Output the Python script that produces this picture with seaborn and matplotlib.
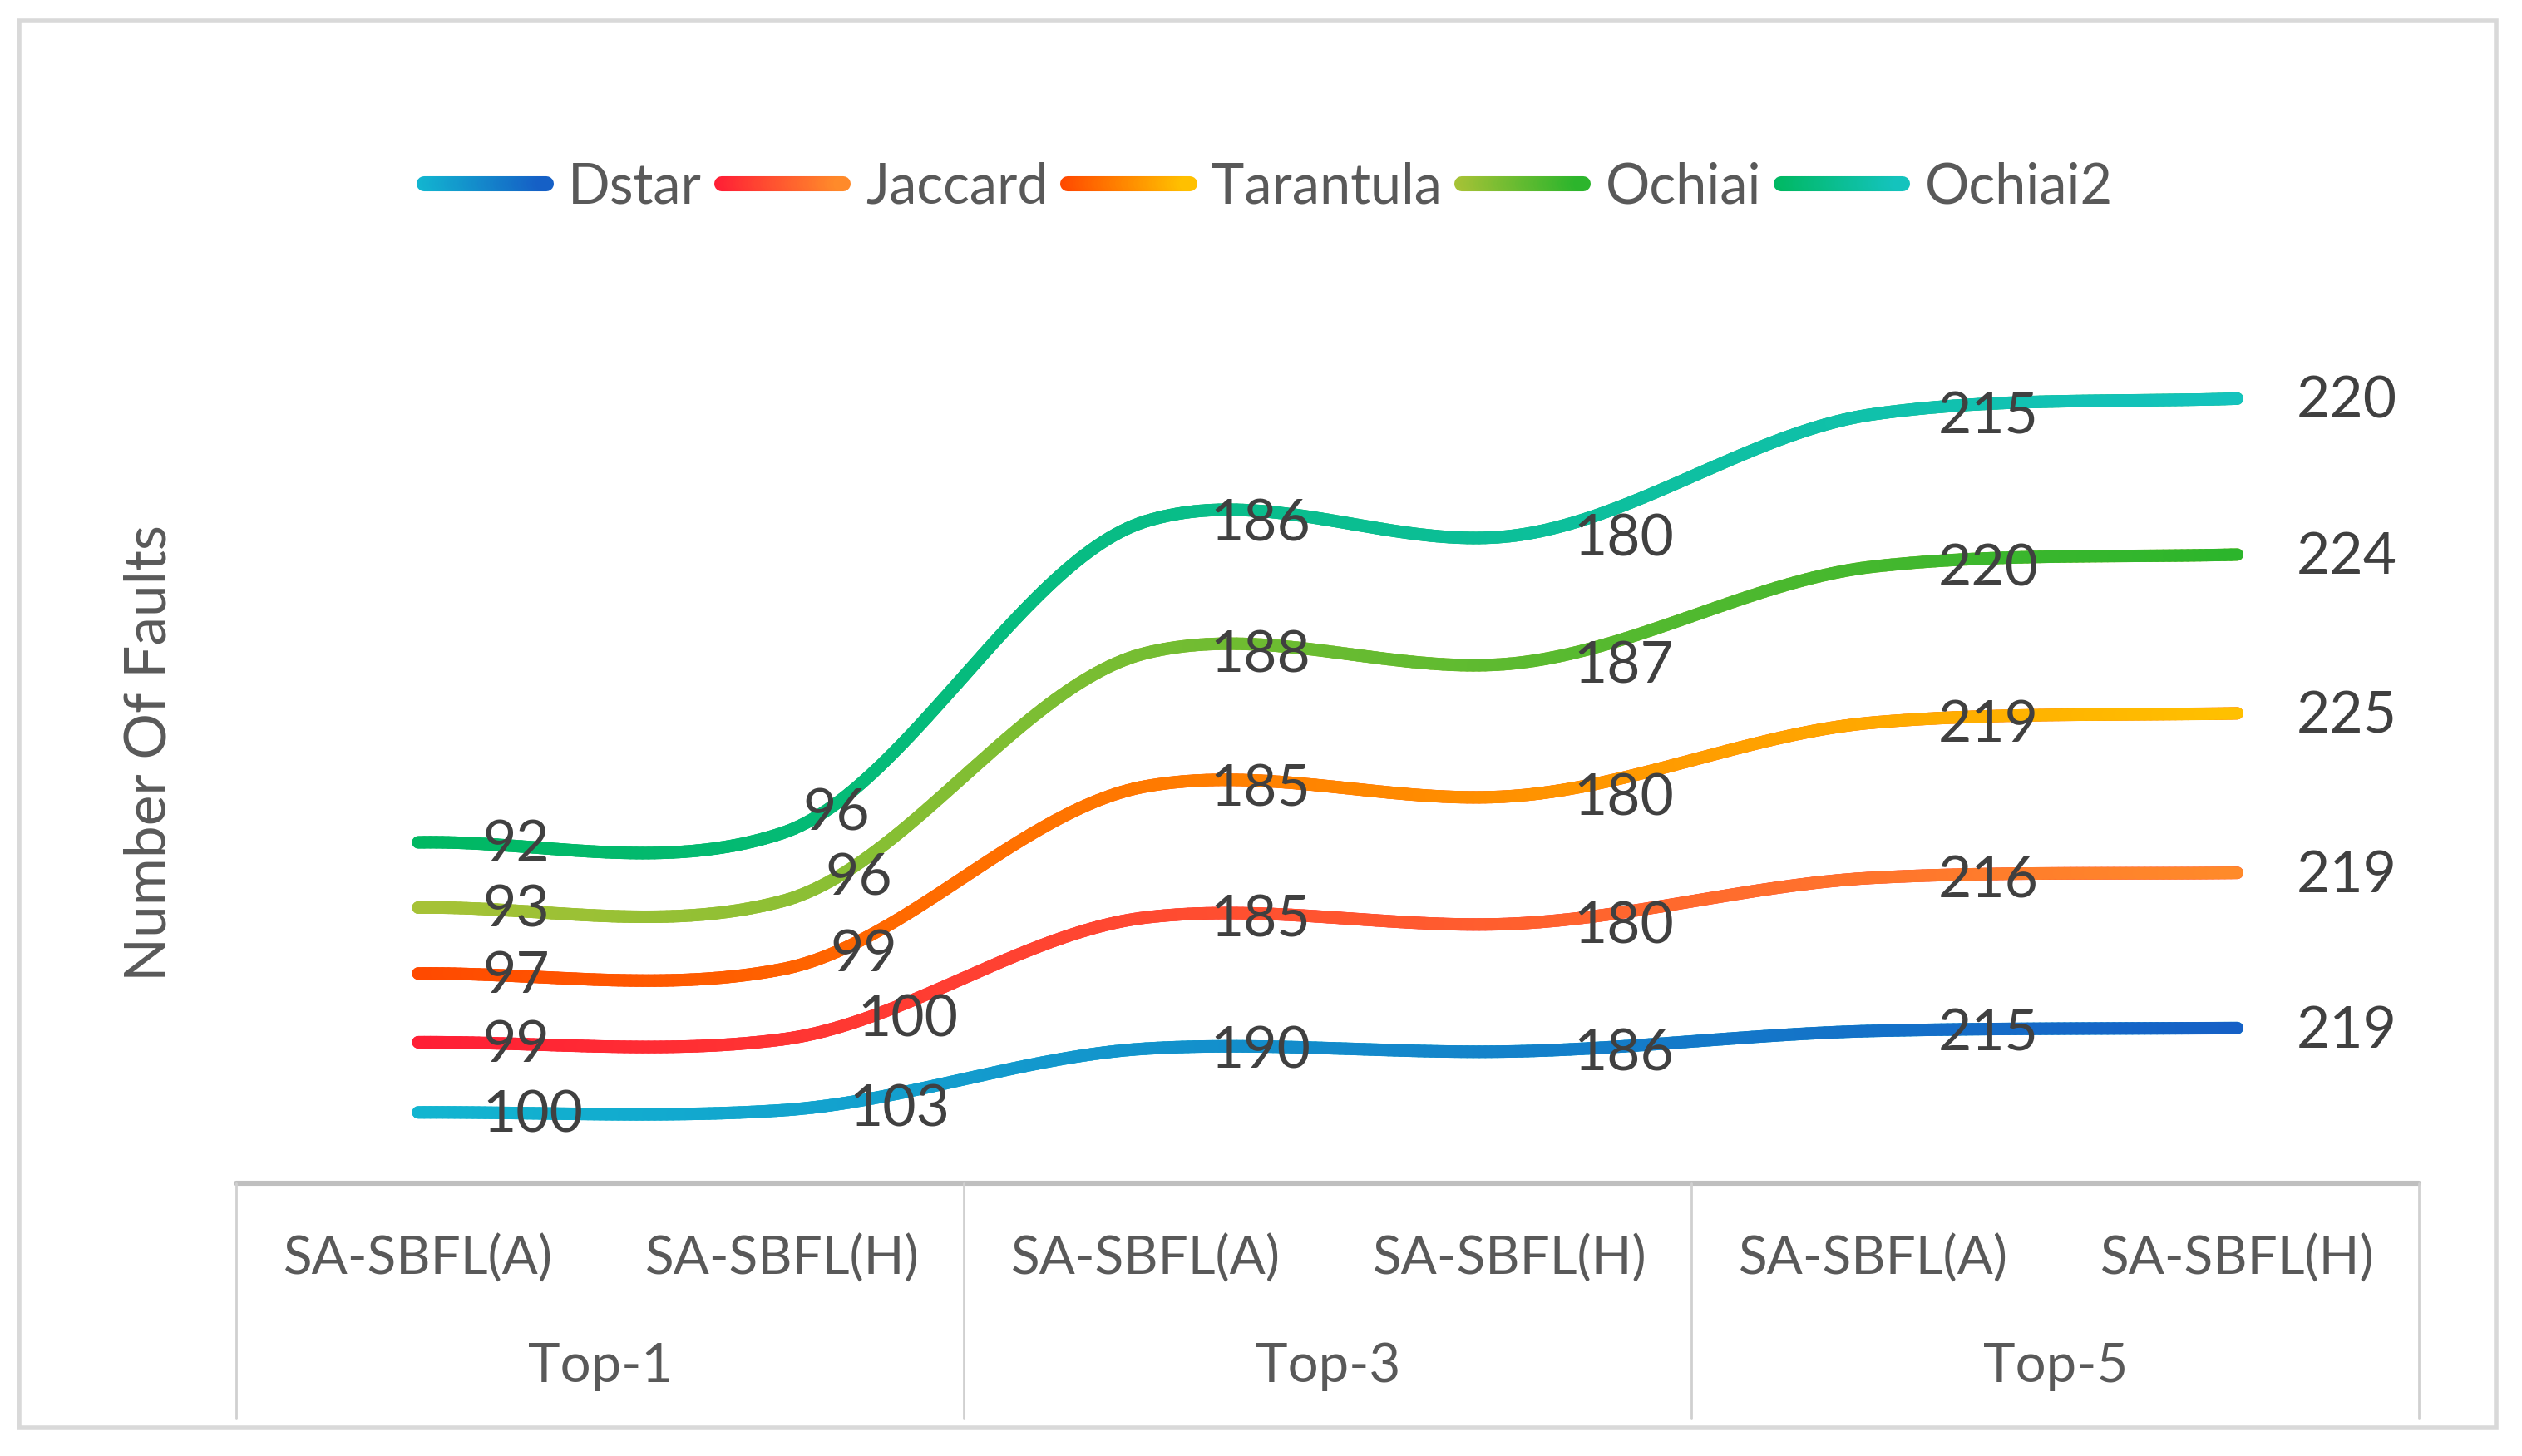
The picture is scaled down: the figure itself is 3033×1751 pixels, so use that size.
import numpy as np
import pandas as pd
import matplotlib
matplotlib.use("Agg")
import matplotlib.pyplot as plt
import seaborn as sns
from matplotlib.collections import LineCollection
from matplotlib.colors import LinearSegmentedColormap
from matplotlib.legend_handler import HandlerBase
from matplotlib.patches import Rectangle

# --- data (values per method, lines are stacked) ---
groups = ["Top-1", "Top-3", "Top-5"]
variants = ["SA-SBFL(A)", "SA-SBFL(H)"]
methods = ["Dstar", "Jaccard", "Tarantula", "Ochiai", "Ochiai2"]

dstar = [100, 103, 190, 186, 215, 219]
jaccard = [99, 100, 185, 180, 216, 219]
tarantula = [97, 99, 185, 180, 219, 225]
ochiai = [93, 96, 188, 187, 220, 224]
ochiai2 = [92, 96, 186, 180, 215, 220]

series = dict(zip(methods, [dstar, jaccard, tarantula, ochiai, ochiai2]))

# left -> right gradient of each line
gradients = {
    "Dstar": ("#12b5d0", "#1560c6"),
    "Jaccard": ("#ff1f35", "#ff8a2a"),
    "Tarantula": ("#ff4a00", "#ffc000"),
    "Ochiai": ("#a6c236", "#2cb52c"),
    "Ochiai2": ("#00b862", "#14c3bd"),
}
cmaps = {m: LinearSegmentedColormap.from_list(m, c) for m, c in gradients.items()}

S = 3033 / 1568  # reference pixel scale helper

rows = []
for j in range(6):
    total = 0
    for m in methods:
        total += series[m][j]
        rows.append({"method": m, "pos": j, "value": series[m][j], "stacked": total})
df = pd.DataFrame(rows)


def smooth(y, n=60, k=0.75):
    # Excel style smoothed line through the points (cubic Hermite)
    y = np.asarray(y, float)
    m = np.empty_like(y)
    m[1:-1] = (y[2:] - y[:-2]) / 2 * k
    m[0] = (y[1] - y[0]) * k
    m[-1] = (y[-1] - y[-2]) * k
    xs, ys = [], []
    for i in range(len(y) - 1):
        t = np.linspace(0, 1, n, endpoint=(i == len(y) - 2))
        h00 = 2 * t**3 - 3 * t**2 + 1
        h10 = t**3 - 2 * t**2 + t
        h01 = -2 * t**3 + 3 * t**2
        h11 = t**3 - t**2
        xs.append(i + t)
        ys.append(h00 * y[i] + h10 * m[i] + h01 * y[i + 1] + h11 * m[i + 1])
    return np.concatenate(xs), np.concatenate(ys)


curves = []
for m in methods:
    sub = df[df.method == m].sort_values("pos")
    xs, ys = smooth(sub.stacked.values)
    curves.append(pd.DataFrame({"x": xs, "y": ys, "method": m}))
curves = pd.concat(curves, ignore_index=True)


class GradientHandler(HandlerBase):
    def __init__(self, cmap, lw):
        super().__init__()
        self.cmap = cmap
        self.lw = lw

    def create_artists(self, legend, orig_handle, xdescent, ydescent,
                       width, height, fontsize, trans):
        n = 40
        xs = np.linspace(-xdescent, width - xdescent, n + 1)
        y = height / 2 - ydescent
        segs = [[(xs[i], y), (xs[i + 1], y)] for i in range(n)]
        lc = LineCollection(segs, colors=self.cmap(np.linspace(0, 1, n)),
                            linewidths=self.lw, capstyle="round", transform=trans)
        return [lc]


sns.set_style("white")
plt.rcParams["font.family"] = ["Lato", "DejaVu Sans"]

fig = plt.figure(figsize=(15.165, 8.755), dpi=200)
ax = fig.add_axes([0.0937, 0.1873, 0.8655, 0.5842])

LW = 5.4
sns.lineplot(data=curves, x="x", y="y", hue="method", hue_order=methods,
             palette={m: gradients[m][0] for m in methods}, sort=False,
             estimator=None, linewidth=LW, solid_capstyle="round", ax=ax)

for m in methods:
    c = curves[curves.method == m]
    pts = np.column_stack([c.x.values, c.y.values])
    segs = np.stack([pts[:-1], pts[1:]], axis=1)
    cols = cmaps[m](c.x.values[:-1] / 5.0)
    ax.add_collection(LineCollection(segs, colors=cols, linewidths=LW,
                                     capstyle="round", zorder=3))

ax.set_xlim(-0.5, 5.5)
ax.set_ylim(0, 1200)
ax.axis("off")

# data labels
nudges = {  # (dx, dy) in reference px for the crowded second column
    ("Ochiai2", 1): (13, 12), ("Ochiai", 1): (27, 14), ("Tarantula", 1): (30, 9),
    ("Jaccard", 1): (47, 12), ("Dstar", 1): (42, 0),
}
for _, r in df.iterrows():
    dx, dy = nudges.get((r.method, r.pos), (37 if r.pos == 5 else 40, -2))
    ax.annotate(str(r.value), (r.pos, r.stacked), xytext=(dx * S, dy * S),
                textcoords="offset pixels", ha="left", va="center",
                fontsize=25, color="#404040", zorder=5)

# multi-level category axis
xt = ax.get_xaxis_transform()
ax.plot([-0.5, 5.5], [0, 0], color="#bfbfbf", lw=2.2, transform=xt, clip_on=False)
for xv in [-0.5, 1.5, 3.5, 5.5]:
    ax.plot([xv, xv], [0, -0.277], color="#d0d0d0", lw=1.0, transform=xt, clip_on=False)
for j in range(6):
    ax.text(j, -0.089, variants[j % 2], transform=xt, ha="center", va="center",
            fontsize=23, color="#595959")
for g, name in enumerate(groups):
    ax.text(2 * g + 0.5, -0.216, name, transform=xt, ha="center", va="center",
            fontsize=23.5, color="#595959")

fig.text(180 / 3033, 1 - 905 / 1751, "Number Of Faults", rotation=90,
         ha="center", va="center", fontsize=25, color="#595959")

handles, labels = ax.get_legend_handles_labels()
if ax.get_legend() is not None:
    ax.get_legend().remove()
hmap = {h: GradientHandler(cmaps[l], 6.5) for h, l in zip(handles, labels)}
fig.legend(handles, labels, handler_map=hmap, ncol=5, loc="center",
           bbox_to_anchor=(0.503, 0.8715), frameon=False, fontsize=24,
           handlelength=2.2, handletextpad=0.4, columnspacing=0.35,
           labelcolor="#595959")

fig.patches.append(Rectangle((23 / 3033, 1 - 1717 / 1751), (3002 - 23) / 3033,
                             (1717 - 25) / 1751, transform=fig.transFigure,
                             fill=False, edgecolor="#d9d9d9", lw=2))

fig.savefig("out.png", dpi=200, facecolor="white")
